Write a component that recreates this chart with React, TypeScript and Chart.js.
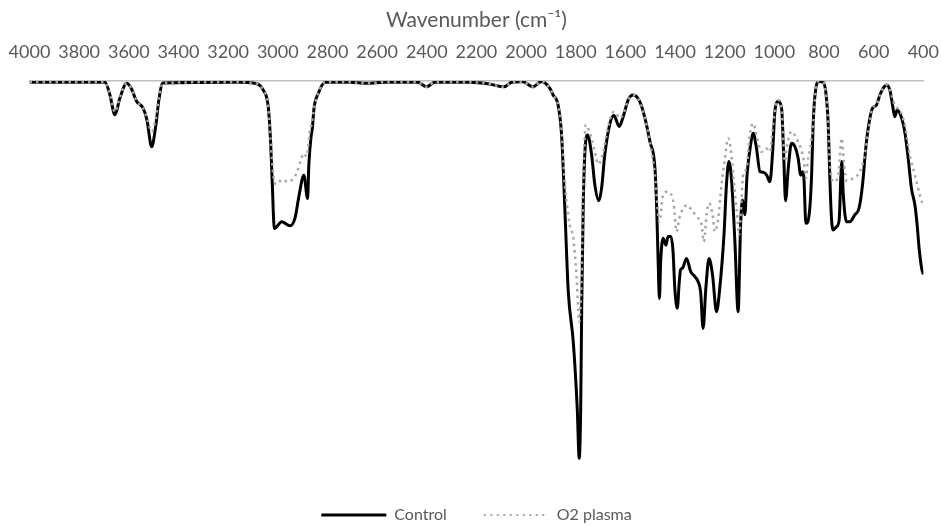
import React, { useEffect, useRef } from "react";
import { Chart, registerables } from "chart.js";

Chart.register(...registerables);

const xTitle = "Wavenumber (cm⁻¹)";
const seriesNames = ["Control", "O2 plasma"];

const controlWavenumber = [
  4000, 3696, 3676, 3656, 3636, 3609, 3591, 3568, 3543, 3527, 3508, 3491, 3479, 3463,
  3152, 3100, 3059, 3038, 3029, 3022, 3014, 2984, 2951, 2931, 2914, 2895, 2880, 2875,
  2866, 2861, 2854, 2837, 2810, 2709, 2641, 2568, 2436, 2401, 2367, 2226, 2146, 2089,
  2057, 2013, 1973, 1937, 1904, 1891, 1871, 1857, 1844, 1830, 1810, 1794, 1786, 1780,
  1776, 1770, 1763, 1752, 1736, 1723, 1707, 1696, 1683, 1662, 1646, 1625, 1609, 1589,
  1569, 1542, 1521, 1501, 1481, 1474, 1468, 1463, 1458, 1448, 1437, 1428, 1417, 1408,
  1401, 1391, 1383, 1378, 1370, 1354, 1337, 1320, 1307, 1297, 1287, 1276, 1263, 1249,
  1233, 1220, 1203, 1193, 1183, 1172, 1159, 1146, 1136, 1128, 1119, 1110, 1096, 1085,
  1072, 1058, 1042, 1031, 1018, 1007, 998, 985, 971, 962, 955, 944, 931, 917, 904, 894,
  886, 881, 873, 860, 850, 844, 833, 820, 804, 793, 783, 777, 770, 763, 750, 739, 732,
  728, 723, 709, 696, 676, 659, 645, 632, 618, 605, 589, 575, 562, 548, 535, 524, 515,
  506, 492, 475, 461, 448, 434, 425, 417, 407, 400,
];
const controlTransmittance = [
  99.7, 99.7, 96.4, 91.3, 95.6, 99.4, 98.2, 94.7, 93.1, 90.0, 83.1, 88.7, 95.1, 99.5,
  99.7, 99.5, 97.7, 93.1, 84.4, 73.3, 62.1, 63.8, 62.8, 64.7, 70.7, 75.8, 69.8, 78.4,
  85.7, 87.8, 93.0, 96.8, 99.7, 99.7, 99.4, 99.7, 99.7, 98.5, 99.7, 99.7, 99.2, 98.5,
  99.7, 99.8, 98.5, 99.9, 98.1, 96.4, 93.8, 86.1, 67.4, 45.8, 33.0, 15.9, 3.0, 15.9,
  41.6, 67.4, 81.8, 86.1, 81.0, 73.3, 69.2, 72.4, 81.0, 89.1, 91.1, 88.3, 90.8, 95.1,
  96.4, 94.7, 90.4, 84.4, 77.6, 67.3, 53.5, 44.1, 53.5, 59.6, 57.8, 60.0, 60.0, 56.1,
  46.7, 41.6, 48.4, 51.4, 51.9, 54.4, 51.0, 49.7, 48.4, 45.8, 36.4, 46.7, 54.4, 50.1,
  40.7, 46.7, 60.4, 73.3, 79.3, 74.1, 58.7, 40.7, 63.0, 69.4, 65.6, 75.8, 83.5, 86.6,
  82.7, 76.7, 76.5, 75.8, 74.1, 81.8, 92.1, 94.7, 93.0, 80.1, 69.2, 77.6, 84.0, 83.1, 80.1, 75.8,
  76.7, 75.0, 63.4, 65.6, 75.8, 88.7, 98.1, 99.9, 99.7, 97.2, 88.7, 75.8, 64.7, 61.7, 62.5, 64.3, 75.8,
  79.3, 71.5, 63.8, 63.8, 65.6, 67.3, 73.3, 82.7, 89.5, 93.0, 93.8, 96.4, 98.1, 99.0, 97.7, 93.8, 90.8,
  92.5, 91.3, 87.0, 80.1, 72.4, 68.1, 63.0, 57.0, 51.9, 50.3,
];

const plasmaWavenumber = [
  4000, 3696, 3676, 3656, 3636, 3609, 3591, 3568, 3543, 3527, 3508, 3491, 3479, 3463,
  3152, 3100, 3059, 3038, 3029, 3018, 3005, 2984, 2958, 2935, 2922, 2911, 2895, 2884,
  2877, 2870, 2864, 2854, 2837, 2810, 2709, 2641, 2568, 2436, 2401, 2367, 2226, 2146,
  2089, 2057, 2013, 1973, 1937, 1904, 1891, 1871, 1857, 1844, 1835, 1824, 1810, 1797,
  1786, 1776, 1770, 1760, 1743, 1723, 1710, 1689, 1676, 1656, 1642, 1622, 1609, 1589,
  1569, 1542, 1521, 1501, 1481, 1463, 1448, 1432, 1414, 1405, 1394, 1383, 1374, 1351,
  1333, 1313, 1293, 1284, 1273, 1263, 1249, 1240, 1226, 1213, 1199, 1186, 1176, 1163,
  1150, 1142, 1132, 1126, 1112, 1099, 1085, 1069, 1052, 1034, 1018, 1005, 991, 985, 971,
  958, 951, 931, 911, 894, 881, 873, 864, 857, 844, 833, 820, 804, 793, 783, 777, 763,
  743, 729, 720, 709, 683, 656, 636, 622, 605, 589, 575, 562, 548, 535, 515, 492, 475,
  455, 434, 414, 400,
];
const plasmaTransmittance = [
  99.7, 99.7, 96.6, 92.0, 95.8, 99.4, 98.2, 94.7, 93.1, 90.5, 87.0, 90.5, 95.5, 99.5,
  99.7, 99.5, 97.7, 93.1, 84.4, 75.8, 73.4, 74.6, 74.1, 75.1, 76.7, 78.8, 81.4, 80.6,
  83.5, 87.8, 88.7, 93.0, 96.8, 99.7, 99.7, 99.4, 99.7, 99.7, 98.5, 99.7, 99.7, 99.2,
  98.5, 99.7, 99.8, 98.5, 99.9, 98.1, 96.4, 93.8, 87.4, 73.3, 68.1, 63.0, 59.6, 50.1,
  38.1, 50.1, 71.5, 88.7, 86.6, 81.8, 78.6, 81.8, 86.1, 91.3, 92.1, 90.4, 91.5, 95.1,
  96.4, 94.7, 90.4, 84.4, 75.8, 63.8, 70.7, 71.5, 70.7, 68.1, 61.3, 64.7, 66.4, 68.1,
  66.8, 65.1, 63.0, 58.7, 65.6, 68.6, 65.6, 61.3, 64.7, 73.3, 80.1, 85.3, 82.7, 74.1,
  65.6, 60.4, 69.8, 75.8, 77.6, 86.1, 89.1, 85.3, 81.8, 82.7, 81.8, 88.7, 94.7, 95.1, 93.0,
  79.3, 82.7, 87.0, 85.3, 82.7, 79.3, 75.0, 80.1, 82.3, 88.7, 98.1, 99.9, 99.7, 97.2, 88.7, 79.3, 74.1,
  75.4, 85.3, 79.3, 74.3, 75.0, 76.7, 81.0, 87.0, 93.0, 93.8, 96.4, 98.1, 99.0, 97.7, 93.8, 92.1, 88.7,
  81.0, 75.8, 70.7, 67.9,
];

const FONT = "Lato, 'Open Sans', sans-serif";

export default function App() {
  const canvasRef = useRef<HTMLCanvasElement | null>(null);

  useEffect(() => {
    const canvas = canvasRef.current;
    if (!canvas) return;
    const legendStyles = [
      { lineWidth: 3, lineDash: [] as number[] },
      { lineWidth: 2, lineDash: [2, 4.5] },
    ];
    const chart = new Chart(canvas, {
      type: "line",
      data: {
        datasets: [
          {
            label: seriesNames[0],
            data: controlWavenumber.map((x, i) => ({ x, y: controlTransmittance[i] })),
            borderColor: "#000000",
            backgroundColor: "#000000",
            borderWidth: 3,
            pointRadius: 0,
            cubicInterpolationMode: "monotone",
            order: 1,
          },
          {
            label: seriesNames[1],
            data: plasmaWavenumber.map((x, i) => ({ x, y: plasmaTransmittance[i] })),
            borderColor: "#A6A6A6",
            backgroundColor: "#A6A6A6",
            borderWidth: 2.5,
            borderDash: [2.5, 4],
            pointRadius: 0,
            cubicInterpolationMode: "monotone",
            order: 0,
          },
        ],
      },
      options: {
        animation: false,
        responsive: false,
        layout: { padding: { left: 29.5, right: 17.5, top: 0, bottom: -8 } },
        scales: {
          x: {
            type: "linear",
            position: "top",
            reverse: true,
            min: 400,
            max: 4000,
            grid: { display: false, drawTicks: false },
            border: { display: true, color: "#BFBFBF", width: 1.5 },
            ticks: {
              stepSize: 200,
              autoSkip: false,
              maxRotation: 0,
              padding: 2,
              color: "#595959",
              font: { family: FONT, size: 18, lineHeight: "54px" },
              callback: (v: any) => String(v),
            },
            title: {
              display: true,
              text: xTitle,
              color: "#595959",
              font: { family: FONT, size: 21, lineHeight: "6px" },
              padding: { top: 17, bottom: 0 },
            },
          },
          y: {
            display: false,
            min: 0,
            max: 100,
          },
        },
        plugins: {
          legend: {
            position: "bottom",
            labels: {
              usePointStyle: true,
              pointStyle: "line",
              pointStyleWidth: 65,
              boxWidth: 65,
              padding: 37,
              color: "#595959",
              font: { family: FONT, size: 16 },
              sort: (a: any, b: any) => a.datasetIndex - b.datasetIndex,
              generateLabels: (c: any) => {
                const items = Chart.defaults.plugins.legend.labels.generateLabels(c);
                return items.map((it: any) => {
                  const s = legendStyles[it.datasetIndex] || legendStyles[0];
                  return { ...it, lineWidth: s.lineWidth, lineDash: s.lineDash, pointStyle: "line" };
                });
              },
            },
          },
          tooltip: { enabled: false },
        },
      },
    });
    return () => chart.destroy();
  }, []);

  return (
    <div style={{ position: "fixed", left: 0, top: 0, width: 941, height: 525, background: "#fff" }}>
      <canvas ref={canvasRef} width={941} height={525} style={{ width: 941, height: 525 }} />
    </div>
  );
}
